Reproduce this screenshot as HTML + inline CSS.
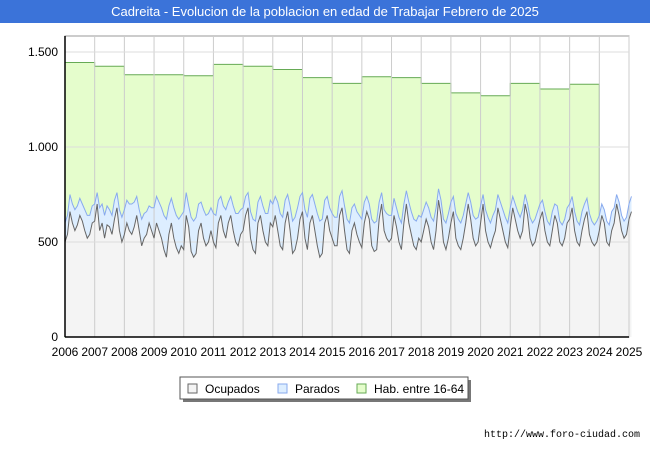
<!DOCTYPE html>
<html><head><meta charset="utf-8"><style>
body{margin:0;width:650px;height:450px;background:#fff;font-family:"Liberation Sans",sans-serif;overflow:hidden}
#title{position:absolute;left:0;top:0;width:650px;height:23px;background:#3b73d9;color:#fff;font-size:13px;line-height:23px;text-align:center}
</style></head><body>
<div id="title">Cadreita - Evolucion de la poblacion en edad de Trabajar Febrero de 2025</div>
<svg id="c" width="650" height="450" style="position:absolute;left:0;top:0"></svg>
<script>
const years=[2006,2007,2008,2009,2010,2011,2012,2013,2014,2015,2016,2017,2018,2019,2020,2021,2022,2023,2024,2025];
const yTicks=[0,500,1000,1500];
const yLabels=["0","500","1.000","1.500"];
const hab=[1445,1425,1380,1380,1375,1435,1425,1408,1365,1335,1370,1365,1335,1285,1270,1335,1305,1330];
const ocupados=[
500,540,660,600,560,590,640,610,560,520,540,600,
610,700,560,600,520,590,580,540,620,680,560,500,
540,600,560,540,580,640,560,480,520,540,600,560,
520,600,560,520,460,420,540,600,520,470,440,480,
460,640,580,450,420,440,560,600,520,480,500,560,
500,470,600,640,560,520,600,640,560,500,480,540,
560,640,680,520,460,440,600,640,560,500,480,600,
580,640,560,480,460,600,660,560,440,460,520,620,
660,520,460,600,640,560,480,420,440,600,640,560,
520,480,480,640,680,560,460,440,560,600,540,500,
470,600,660,620,480,450,460,620,700,560,520,500,
520,640,580,500,460,600,700,600,540,480,460,520,
500,560,620,580,500,460,560,720,640,500,460,520,
600,660,520,480,460,520,600,700,620,520,480,500,
600,700,560,500,470,520,560,680,620,560,500,470,
580,680,620,560,520,560,700,640,520,480,500,560,
620,660,560,500,480,560,640,600,500,480,520,600,
620,680,560,500,480,560,620,660,540,500,480,500,
560,640,600,500,480,560,600,700,640,560,520,540,
620,660];
const parados=[
100,100,90,100,110,100,90,90,110,120,100,90,
90,60,120,100,120,100,90,100,100,80,110,130,
130,120,140,160,130,100,110,140,130,120,90,120,
160,140,150,160,180,200,150,130,160,170,180,160,
200,120,110,180,190,190,140,110,150,160,150,120,
150,170,120,100,130,150,110,100,130,150,170,130,
120,100,80,140,160,170,110,100,130,150,170,120,
120,100,150,170,170,120,90,130,170,170,160,120,
100,150,170,130,110,140,170,190,180,120,100,120,
130,150,150,100,90,130,160,160,120,100,120,140,
150,110,80,80,140,150,150,90,60,110,130,140,
120,90,100,130,140,100,70,110,120,140,150,120,
130,110,90,100,130,150,120,60,80,120,140,130,
110,80,130,140,140,120,100,60,90,120,140,130,
90,50,110,130,130,120,110,70,90,110,130,130,
100,60,80,100,110,110,50,60,110,120,120,100,
80,60,100,110,110,100,60,90,110,110,100,80,
80,60,100,110,110,100,80,70,110,110,110,110,
80,60,70,110,110,100,80,50,70,80,90,90,
80,80];
const svg=document.getElementById('c'),NS='http://www.w3.org/2000/svg';
const L=65,R=629,T=36,B=337;
const X=t=>L+(t-2006)/(2025-2006)*(R-L);
const Y=v=>B-v/1500*(B-52);
function mk(tag,attrs,name,parent){const e=document.createElementNS(NS,tag);for(const k in attrs)e.setAttribute(k,attrs[k]);


(parent||svg).appendChild(e);return e;}
mk('rect',{x:L,y:T,width:R-L,height:B-T,fill:'#fff',stroke:'#999'},'plot-area');
// hab area
let hp=`M${X(2006)},${B}`;
hab.forEach((v,i)=>{hp+=` L${X(2006+i)},${Y(v)} L${X(2007+i)},${Y(v)}`;});
const lastHabX=X(2006+hab.length);
const n=ocupados.length;
const tm=i=>2006+(i)/12;
hp+=` L${lastHabX},${Y(ocupados[216]+parados[216])} L${lastHabX},${B} Z`;
mk('path',{d:hp,fill:'#e5fdcc',stroke:'#66aa55','stroke-width':1},'hab-area');
// totals
let tp=`M${X(tm(0))},${B}`,tl='';
for(let i=0;i<n;i++){tp+=` L${X(tm(i))},${Y(ocupados[i]+parados[i])}`;tl+=(i?' L':'M')+X(tm(i))+','+Y(ocupados[i]+parados[i]);}
tp+=` L${X(tm(n-1))},${B} Z`;
mk('path',{d:tp,fill:'#ddeeff',stroke:'none'},'parados-area');
let op=`M${X(tm(0))},${B}`,ol='';
for(let i=0;i<n;i++){op+=` L${X(tm(i))},${Y(ocupados[i])}`;ol+=(i?' L':'M')+X(tm(i))+','+Y(ocupados[i]);}
op+=` L${X(tm(n-1))},${B} Z`;
mk('path',{d:op,fill:'#f4f4f4',stroke:'none'},'ocupados-area');
// grid
years.forEach(y=>{mk('line',{x1:X(y),x2:X(y),y1:T,y2:B,stroke:'#ccc'},'x-grid');});
yTicks.forEach(v=>{mk('line',{x1:L,x2:R,y1:Y(v),y2:Y(v),stroke:'#ddd'},'y-grid');});
mk('path',{d:tl,fill:'none',stroke:'#88aaee','stroke-width':1},'parados-line');
mk('path',{d:ol,fill:'none',stroke:'#666','stroke-width':1},'ocupados-line');
mk('line',{x1:L,x2:L,y1:T,y2:B,stroke:'#000','stroke-width':1.5},'y-axis');
mk('line',{x1:L,x2:R,y1:B,y2:B,stroke:'#000','stroke-width':1.5},'x-axis');
yTicks.forEach((v,i)=>{const t=mk('text',{x:L-7,y:Y(v)+4,'text-anchor':'end','font-size':12,fill:'#000'},'y-tick-label');t.textContent=yLabels[i];});
years.forEach(y=>{const t=mk('text',{x:X(y),y:B+19,'text-anchor':'middle','font-size':12,fill:'#000'},'x-tick-label');t.textContent=y;});
// legend
const lg=mk('g',{},'legend');
mk('rect',{x:183,y:380,width:288,height:22,fill:'#777'},'legend-shadow',lg);
mk('rect',{x:180,y:377,width:288,height:22,fill:'#fff',stroke:'#555'},'legend-box',lg);
[['Ocupados','#f4f4f4','#666',188],['Parados','#ddeeff','#88aaee',278],['Hab. entre 16-64','#e5fdcc','#66aa55',357]].forEach(e=>{
mk('rect',{x:e[3],y:384,width:9,height:9,fill:e[1],stroke:e[2]},'legend-swatch',lg);
const t=mk('text',{x:e[3]+17,y:393,'font-size':12,fill:'#000'},'legend-entry',lg);t.textContent=e[0];});
const f=mk('text',{x:640,y:437,'text-anchor':'end','font-size':10,fill:'#000','font-family':'Liberation Mono'},'source-url');f.textContent='http://www.foro-ciudad.com';
</script>
</body></html>
